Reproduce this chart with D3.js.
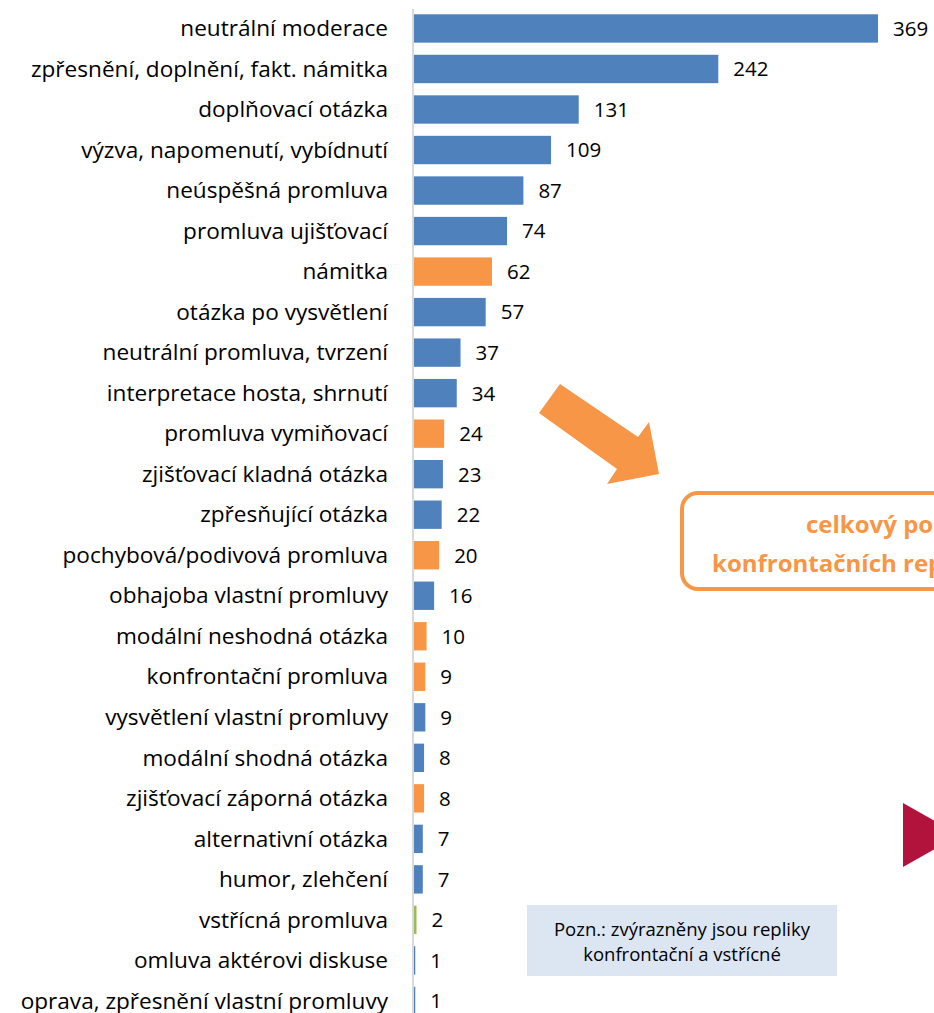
<!DOCTYPE html>
<html><head><meta charset="utf-8">
<script src="https://cdn.jsdelivr.net/npm/d3@7/dist/d3.min.js"></script>
<style>html,body{margin:0;padding:0;background:#fff;overflow:hidden}</style>
</head><body>
<svg id="c" width="934" height="1013"></svg>
<script>
const categories = ["neutrální moderace","zpřesnění, doplnění, fakt. námitka","doplňovací otázka","výzva, napomenutí, vybídnutí","neúspěšná promluva","promluva ujišťovací","námitka","otázka po vysvětlení","neutrální promluva, tvrzení","interpretace hosta, shrnutí","promluva vymiňovací","zjišťovací kladná  otázka","zpřesňující otázka","pochybová/podivová promluva","obhajoba vlastní promluvy","modální neshodná otázka","konfrontační promluva","vysvětlení vlastní promluvy","modální shodná otázka","zjišťovací záporná otázka","alternativní otázka","humor, zlehčení","vstřícná promluva","omluva aktérovi diskuse","oprava, zpřesnění vlastní promluvy"];
const values = [369,242,131,109,87,74,62,57,37,34,24,23,22,20,16,10,9,9,8,8,7,7,2,1,1];
const types = ["n","n","n","n","n","n","k","n","n","n","k","n","n","k","n","k","k","n","n","k","n","n","v","n","n"];
const noteLines = ["Pozn.: zvýrazněny jsou repliky","konfrontační a vstřícné"];
const calloutLines = ["celkový počet","konfrontačních replik"];

const colors = {n:"#4f81bd", k:"#f79646", v:"#9bbb59"};
const svg = d3.select("#c");
const font = "'Open Sans', sans-serif";

const y = d3.scaleBand().domain(categories).range([8.2, 1021.2]).paddingInner(0.3).paddingOuter(0.15);
const x = d3.scaleLinear().domain([0, 369]).range([414, 878]);

// axis line
svg.append("line").attr("x1",413).attr("x2",413).attr("y1",9).attr("y2",1013)
  .attr("stroke","#d9d9d9").attr("stroke-width",2);

const data = categories.map((c,i)=>({c, v:values[i], t:types[i]}));
svg.append("g").selectAll("rect").data(data).join("rect")
  .attr("x", x(0)).attr("y", d=>y(d.c)).attr("height", y.bandwidth())
  .attr("width", d=>Math.max(1, x(d.v)-x(0))).attr("fill", d=>colors[d.t]);

svg.append("g").selectAll("text").data(data).join("text")
  .attr("x", d=>x(d.v)+15).attr("y", d=>y(d.c)+y.bandwidth()/2).attr("dy","0.36em")
  .attr("font-family",font).attr("font-size",20.5).attr("fill","#000").text(d=>d.v);

svg.append("g").selectAll("text").data(data).join("text")
  .attr("x", 388).attr("y", d=>y(d.c)+y.bandwidth()/2).attr("dy","0.34em")
  .attr("text-anchor","end").attr("font-family",font).attr("font-size",22.6).attr("fill","#000").text(d=>d.c);

// arrow
svg.append("polygon").attr("points","560,384 638,437 649,422 659,474 607,484 617,469 539,413").attr("fill","#f79646");

// callout box
svg.append("rect").attr("x",682).attr("y",493).attr("width",400).attr("height",96).attr("rx",16)
  .attr("fill","#fff").attr("stroke","#f79646").attr("stroke-width",4);
svg.append("text").attr("x",806).attr("y",533).attr("font-family",font).attr("font-weight","bold")
  .attr("font-size",24).attr("fill","#f79646").text(calloutLines[0]);
svg.append("text").attr("x",712).attr("y",572).attr("font-family",font).attr("font-weight","bold")
  .attr("font-size",24).attr("fill","#f79646").text(calloutLines[1]);

// red triangle
svg.append("polygon").attr("points","903,803 903,867 960,835").attr("fill","#b2133d");

// note box
svg.append("rect").attr("x",527).attr("y",905).attr("width",310).attr("height",71).attr("fill","#dce6f2");
noteLines.forEach((t,i)=>svg.append("text").attr("x",682).attr("y",929+i*25).attr("dy","0.36em")
  .attr("text-anchor","middle").attr("font-family",font).attr("font-size",18.5).attr("fill","#000").text(t));
</script>
</body></html>
